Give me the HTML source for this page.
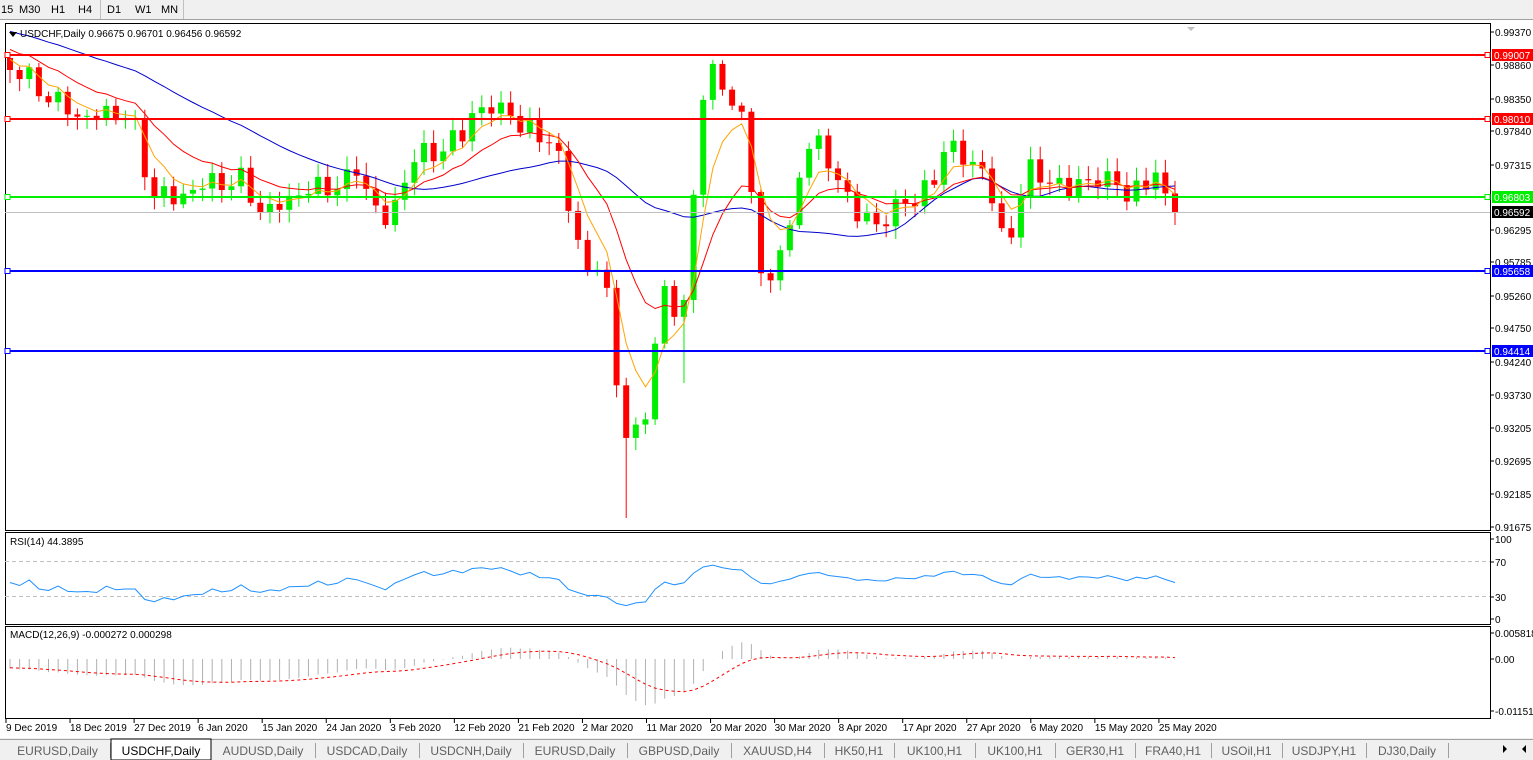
<!DOCTYPE html>
<html><head><meta charset="utf-8"><style>
body{margin:0;width:1533px;height:760px;overflow:hidden;background:#fff;font-family:"Liberation Sans",sans-serif;}
svg{position:absolute;left:0;top:0}
</style></head><body>
<svg id="s" width="1533" height="760" xmlns="http://www.w3.org/2000/svg" font-family="Liberation Sans, sans-serif"></svg>
<script>
const S=document.getElementById('s');let h='';
function r(x,y,w,hh,f,st){h+=`<rect x="${x}" y="${y}" width="${w}" height="${hh}" fill="${f}" ${st?`stroke="${st}"`:''}/>`;}
function l(x1,y1,x2,y2,c,w,d){h+=`<line x1="${x1}" y1="${y1}" x2="${x2}" y2="${y2}" stroke="${c}" stroke-width="${w||1}" ${d?`stroke-dasharray="${d}"`:''}/>`;}
function t(x,y,s,sz,c,a){h+=`<text x="${x}" y="${y}" font-size="${sz||11}" fill="${c||'#000'}" ${a?`text-anchor="${a}"`:''}>${s}</text>`;}
r(0,0,1533,19,'#f0f0f0');l(0,19.5,1533,19.5,'#a0a0a0');
[['15',0],['M30',18],['H1',50],['H4',77],['D1',106],['W1',134],['MN',160]].forEach(a=>t(a[1]+1,13,a[0],11,'#000'));
l(100.5,0,100.5,19,'#c0c0c0');l(183.5,0,183.5,19,'#c0c0c0');
r(5.5,23.5,1485,507,'#fff','#000');r(5.5,532.5,1485,92,'#fff','#000');r(5.5,626.5,1485,92,'#fff','#000');
const pts=[[10,65],[40,90],[80,118],[130,112],[150,190],[175,200],[200,185],[240,180],[265,215],[280,205],[300,192],[350,182],[358,165],[380,222],[390,220],[400,190],[412,160],[450,145],[462,135],[472,112],[510,108],[520,130],[540,132],[555,145],[565,190],[575,230],[590,280],[600,262],[612,320],[618,395],[630,455],[640,425],[650,395],[660,290],[670,302],[682,325],[690,230],[697,160],[705,80],[718,68],[730,100],[742,125],[752,185],[760,270],[770,292],[777,250],[790,228],[800,172],[812,140],[825,150],[835,172],[850,210],[870,212],[880,240],[890,210],[902,196],[915,206],[930,182],[945,150],[965,155],[985,175],[995,210],[1005,245],[1015,222],[1025,180],[1035,162],[1050,185],[1065,190],[1080,180],[1100,185],[1115,170],[1130,212],[1140,180],[1155,172],[1168,210],[1175,212]];
function iy(x){for(let i=0;i<pts.length-1;i++){if(x<=pts[i+1][0])return pts[i][1]+(pts[i+1][1]-pts[i][1])*(x-pts[i][0])/(pts[i+1][0]-pts[i][0]);}return pts[pts.length-1][1];}
const N=122,dx=(1175-10)/(N-1);const C=[],X=[];
for(let i=0;i<N;i++){X.push(10+i*dx);C.push(iy(10+i*dx)+Math.sin(i*2.3)*9+Math.cos(i*1.7)*5);}
C[N-1]=212;
const pre=[];for(let i=0;i<40;i++)pre.push(-20+i*2);
const all=pre.concat(C);
function sma(p,i){let s=0;for(let k=i-p+1;k<=i;k++)s+=all[k];return s/p;}
function ema(arr,p){const o=[];let e=arr[0],k=2/(p+1);arr.forEach(v=>{e=v*k+e*(1-k);o.push(e);});return o;}
for(let i=0;i<N;i++){const o=i?C[i-1]:58,c=C[i];const up=c<o;const col=up?'#00ee00':'#ff0000';
let hi=Math.min(o,c)-3-Math.abs(Math.sin(i*3.1))*10,lo=Math.max(o,c)+3+Math.abs(Math.cos(i*2.7))*10;
if(Math.abs(X[i]-630)<5)lo=518;if(Math.abs(X[i]-680)<5)lo=383;
l(X[i],hi,X[i],lo,col,1);r(X[i]-3,Math.min(o,c),6,Math.max(1,Math.abs(c-o)),col);}
function poly(arr,c){h+=`<polyline fill="none" stroke="${c}" stroke-width="1" points="${arr.map((v,i)=>X[i].toFixed(1)+','+v.toFixed(1)).join(' ')}"/>`;}
const e5=ema(all,5).slice(40),e13=ema(all,13).slice(40);const s34=C.map((v,i)=>sma(30,i+40));
poly(s34,'#0000cc');poly(e13,'#ff0000');poly(e5,'#ffa500');
l(5,212.5,1490,212.5,'#c0c0c0');
[[55,'#ff0000'],[119,'#ff0000'],[197,'#00ee00'],[271,'#0000ff'],[351,'#0000ff']].forEach(a=>{l(5,a[0],1490,a[0],a[1],2);r(5,a[0]-2.5,5,5,'#fff',a[1]);r(1485,a[0]-2.5,5,5,'#fff',a[1]);});
[[32,'0.99370'],[65,'0.98860'],[99,'0.98350'],[131,'0.97840'],[165,'0.97315'],[230,'0.96295'],[262,'0.95785'],[296,'0.95260'],[328,'0.94750'],[362,'0.94240'],[395,'0.93730'],[428,'0.93205'],[461,'0.92695'],[494,'0.92185'],[527,'0.91675']].forEach(a=>{l(1490,a[0],1494,a[0],'#000');t(1495,a[0]+4,a[1],10);});
[[55,'#ff0000','0.99007'],[119,'#ff0000','0.98010'],[197,'#00ee00','0.96803'],[212,'#000','0.96592'],[271,'#0000ff','0.95658'],[351,'#0000ff','0.94414']].forEach(a=>{r(1492,a[0]-6,41,12,a[1]);t(1494,a[0]+4,a[2],10,'#fff');});
h+=`<polygon points="9,32 17,32 13,37" fill="#000"/>`;
t(20,37,'USDCHF,Daily  0.96675 0.96701 0.96456 0.96592',10);
h+=`<polygon points="1187,27 1195,27 1191,31" fill="#c0c0c0"/>`;
// RSI
const R=[45];let ag=3,al=3.6;
for(let i=1;i<N;i++){const d=C[i-1]-C[i];ag=(ag*13+Math.max(d,0))/14;al=(al*13+Math.max(-d,0))/14;R.push(100-100/(1+ag/al));}
l(5,561.5,1490,561.5,'#c0c0c0',1,'4,3');l(5,596.5,1490,596.5,'#c0c0c0',1,'4,3');
h+=`<polyline fill="none" stroke="#1e90ff" stroke-width="1" points="${R.map((v,i)=>X[i].toFixed(1)+','+(539+(100-v)*0.79).toFixed(1)).join(' ')}"/>`;
t(10,545,'RSI(14) 44.3895',10);
[[539,'100'],[562,'70'],[597,'30'],[619,'0']].forEach(a=>{l(1490,a[0],1494,a[0],'#000');t(1495,a[0]+4,a[1],10);});
// MACD
const pr=all.map(v=>0.99370-(v-32)/6432.7);const m12=ema(pr,12),m26=ema(pr,26);const md=m12.map((v,i)=>v-m26[i]);const sg=ema(md,9);
const MD=md.slice(40),SG=sg.slice(40);const my=v=>659-v*4501;
MD.forEach((v,i)=>l(X[i],659,X[i],my(v),'#b0b0b0',1));
h+=`<polyline fill="none" stroke="#ff0000" stroke-width="1" stroke-dasharray="3,3" points="${SG.map((v,i)=>X[i].toFixed(1)+','+my(v).toFixed(1)).join(' ')}"/>`;
t(10,638,'MACD(12,26,9) -0.000272 0.000298',10);
[[633,'0.005818'],[659,'0.00'],[711,'-0.011514']].forEach(a=>{l(1490,a[0],1494,a[0],'#000');t(1495,a[0]+4,a[1],10);});
['9 Dec 2019','18 Dec 2019','27 Dec 2019','6 Jan 2020','15 Jan 2020','24 Jan 2020','3 Feb 2020','12 Feb 2020','21 Feb 2020','2 Mar 2020','11 Mar 2020','20 Mar 2020','30 Mar 2020','8 Apr 2020','17 Apr 2020','27 Apr 2020','6 May 2020','15 May 2020','25 May 2020'].forEach((s,i)=>{const x=6+i*64.05;l(x,719,x,723,'#000');t(x,731,s,10);});
r(0,738,1533,22,'#f0f0f0');l(0,739.5,1533,739.5,'#a0a0a0');
const tabs=[['EURUSD,Daily',5,110],['USDCHF,Daily',111,211],['AUDUSD,Daily',211,315],['USDCAD,Daily',315,419],['USDCNH,Daily',419,523],['EURUSD,Daily',523,627],['GBPUSD,Daily',627,731],['XAUUSD,H4',731,824],['HK50,H1',824,894],['UK100,H1',894,975],['UK100,H1',975,1055],['GER30,H1',1055,1135],['FRA40,H1',1135,1211],['USOil,H1',1211,1282],['USDJPY,H1',1282,1366],['DJ30,Daily',1366,1448]];
tabs.forEach((a,i)=>{if(i==1){r(a[1],739,a[2]-a[1],21,'#fff','#000');t((a[1]+a[2])/2,755,a[0],12,'#000','middle');}else{t((a[1]+a[2])/2,755,a[0],12,'#606060','middle');l(a[2]+0.5,743,a[2]+0.5,758,'#a0a0a0');}});
h+=`<polygon points="1507,749 1503,745 1503,753" fill="#000"/><polygon points="1522,749 1526,745 1526,753" fill="#000"/>`;
S.innerHTML=h;
</script>
</body></html>
